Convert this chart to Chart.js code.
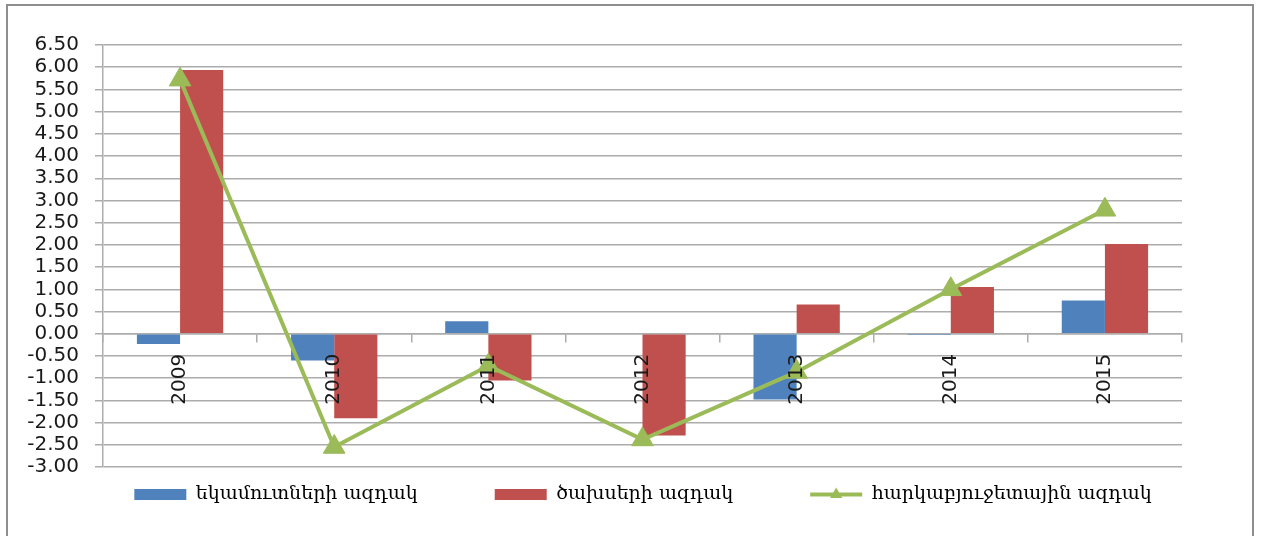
<!DOCTYPE html>
<html>
<head>
<meta charset="utf-8">
<script src="https://cdn.jsdelivr.net/npm/chart.js@4"></script>
<style>
  html, body { margin: 0; padding: 0; background: #fff; overflow: hidden; }
  #wrap { position: relative; width: 1261px; height: 536px; }
  #frame { position: absolute; left: 6px; top: 4px; width: 1244px; height: 600px; border: 2px solid #8e8e8e; }
  #myChart { position: absolute; left: 0; top: 0; }
</style>
</head>
<body>
<div id="wrap">
  <div id="frame"></div>
  <canvas id="myChart" width="1261" height="536"></canvas>
</div>
<script>
'use strict'

const years = ['2009', '2010', '2011', '2012', '2013', '2014', '2015']
const revenueGap = [-0.23, -0.60, 0.28, 0, -1.48, -0.03, 0.75]
const spendingGap = [5.94, -1.90, -1.05, -2.29, 0.66, 1.05, 2.02]
const budgetGap = [5.72, -2.55, -0.72, -2.38, -0.86, 1.00, 2.79]
const yMin = -3
const yMax = 6.5
const yStep = 0.5
const seriesNames = ['եկամուտների ազդակ', 'ծախսերի ազդակ', 'հարկաբյուջետային ազդակ']

const blue = '#4f81bd'
const red = '#c0504d'
const green = '#9bbb59'
const gridGray = '#acacac'

// pulls the legend up under the plot and shifts it a bit right, like the excel original
const legendShift = {
  id: 'legendShift',
  afterLayout(chart) {
    const lg = chart.legend
    lg.top -= 59
    lg.left += 52
    lg.right += 52
  },
  afterDraw(chart) {
    // triangle on the line sample of the legend
    const box = chart.legend.legendHitBoxes[2]
    if (!box) return
    const ctx = chart.ctx
    const cx = box.left + 26
    const cy = box.top + 9.5
    const r = 7
    ctx.save()
    ctx.fillStyle = green
    ctx.beginPath()
    ctx.moveTo(cx, cy - r)
    ctx.lineTo(cx + r * 0.87, cy + r / 2)
    ctx.lineTo(cx - r * 0.87, cy + r / 2)
    ctx.closePath()
    ctx.fill()
    ctx.restore()
  }
}

const ctx = document.getElementById('myChart')

new Chart(ctx, {
  type: 'bar',
  data: {
    labels: years,
    datasets: [
      {
        type: 'line',
        label: seriesNames[2],
        data: budgetGap,
        borderColor: green,
        backgroundColor: green,
        borderWidth: 4,
        pointStyle: 'triangle',
        pointRadius: 12.5,
        pointBackgroundColor: green,
        pointBorderColor: green,
        pointBorderWidth: 1,
        tension: 0,
        order: 0
      },
      {
        label: seriesNames[0],
        data: revenueGap,
        backgroundColor: blue,
        barPercentage: 1,
        categoryPercentage: 0.56,
        order: 1
      },
      {
        label: seriesNames[1],
        data: spendingGap,
        backgroundColor: red,
        barPercentage: 1,
        categoryPercentage: 0.56,
        order: 1
      }
    ]
  },
  options: {
    responsive: false,
    animation: false,
    layout: { padding: { left: 0, right: 79, top: 45, bottom: 0 } },
    plugins: {
      tooltip: { enabled: false },
      legend: {
        position: 'bottom',
        maxHeight: 69,
        labels: {
          usePointStyle: true,
          pointStyleWidth: 52,
          boxHeight: 11,
          padding: 77,
          color: '#111',
          font: { family: 'DejaVu Serif', size: 19 },
          generateLabels: (chart) => {
            const sets = chart.data.datasets
            const order = [1, 2, 0]
            return order.map((i) => ({
              text: sets[i].label,
              datasetIndex: i,
              fillStyle: sets[i].backgroundColor,
              strokeStyle: i === 0 ? green : sets[i].backgroundColor,
              lineWidth: i === 0 ? 4 : 0,
              pointStyle: i === 0 ? 'line' : 'rect',
              hidden: false
            }))
          }
        }
      }
    },
    scales: {
      x: {
        position: { y: 0 },
        offset: true,
        afterFit: (scale) => { scale.height = 0 },
        grid: {
          drawOnChartArea: false,
          drawTicks: true,
          tickLength: 8,
          color: gridGray,
          lineWidth: 1.5
        },
        border: { display: true, color: gridGray, width: 1.5 },
        ticks: {
          z: 1,
          minRotation: 90,
          maxRotation: 90,
          padding: 12,
          color: '#1a1a1a',
          font: { family: 'DejaVu Sans', size: 20 }
        }
      },
      y: {
        min: yMin,
        max: yMax,
        afterFit: (scale) => { scale.width = 103 },
        grid: {
          color: gridGray,
          lineWidth: 1.5,
          tickLength: 8
        },
        border: { display: true, color: gridGray, width: 1.5 },
        ticks: {
          stepSize: yStep,
          autoSkip: false,
          padding: 16,
          color: '#1a1a1a',
          font: { family: 'DejaVu Sans', size: 20 },
          callback: (v) => Number(v).toFixed(2)
        }
      }
    }
  },
  plugins: [legendShift]
})
</script>
</body>
</html>
